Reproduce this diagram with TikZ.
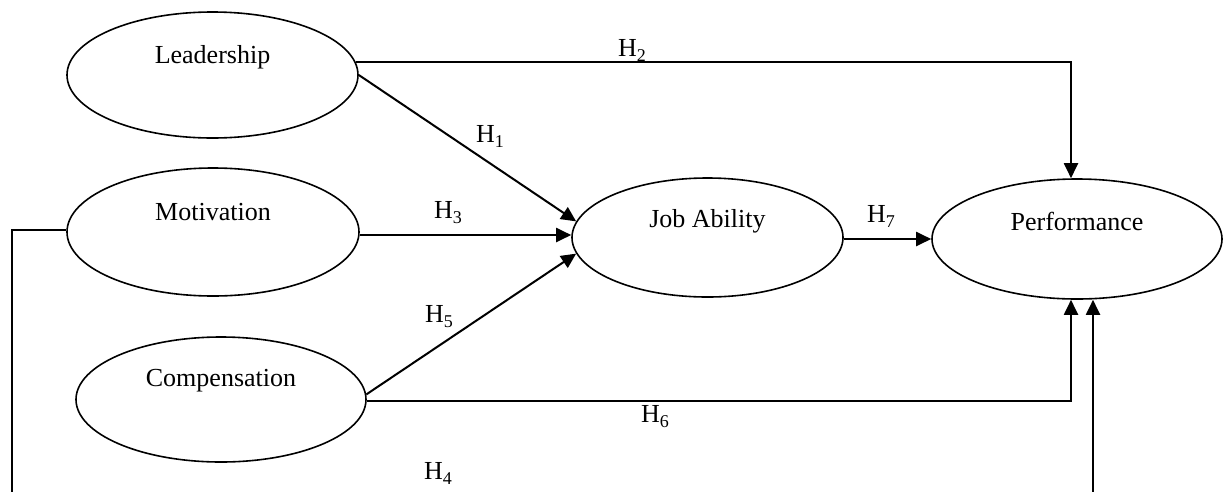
\documentclass[tikz,border=0pt]{standalone}
\usepackage{fontspec}
\setmainfont{Liberation Serif}
\usetikzlibrary{shapes.geometric,arrows.meta,calc}
\newcommand{\Hyp}[1]{H\raisebox{-5pt}{\fontsize{18}{20}\selectfont #1}}
\begin{document}
\begin{tikzpicture}[x=1pt,y=-1pt,
  construct/.style={ellipse,draw,line width=1.6pt,inner sep=0pt},
  ctext/.style={anchor=base,font=\fontsize{26}{30}\selectfont},
  hlabel/.style={anchor=base,font=\fontsize{26}{30}\selectfont,inner sep=0pt},
  conn/.style={line width=2pt,-{Triangle[length=15pt,width=14pt]}},
  plain/.style={line width=2pt}]
\useasboundingbox (0,0) rectangle (1224,491);
\clip (0,0) rectangle (1224,491);
% constructs
\node[construct,minimum width=291pt,minimum height=126pt] (lead) at (212.5,75) {};
\node[construct,minimum width=292pt,minimum height=128pt] (mot) at (213,232) {};
\node[construct,minimum width=290pt,minimum height=125pt] (comp) at (221,399.5) {};
\node[construct,minimum width=271pt,minimum height=119pt] (ja) at (707.5,237.5) {};
\node[construct,minimum width=290pt,minimum height=120pt] (perf) at (1077,239) {};
% texts
\node[ctext] (leadt) at ([yshift=12pt]lead.center) {Leadership};
\node[ctext] (mott) at ([yshift=12pt]mot.center) {Motivation};
\node[ctext] (compt) at ([yshift=13pt]comp.center) {Compensation};
\node[ctext] (jat) at ([yshift=10pt]ja.center) {Job Ability};
\node[ctext] (perft) at ([yshift=9pt]perf.center) {Performance};
% helper coordinates
\coordinate (h4a) at (12,530);
% connectors
\draw[conn] (lead.east) -- (ja.173);
\draw[conn] (lead.5) -| ([xshift=-6pt]perf.north);
\draw[conn] (mot.east |- 0,235) -- (ja.west |- 0,235);
\draw[conn] (comp.2) -- (ja.187);
\draw[conn] (comp.east |- 0,401) -| ([xshift=-6pt]perf.south);
\draw[conn] (ja.east |- 0,239) -- (perf.west);
\draw[conn] (mot.west |- 0,230) -| (h4a) -| ([xshift=16pt]perf.south);
% labels
\node[hlabel] (l1) at (490,142) {\Hyp{1}};
\node[hlabel] (l2) at (632,56) {\Hyp{2}};
\node[hlabel] (l3) at (448,218) {\Hyp{3}};
\node[hlabel] (l4) at (438,479) {\Hyp{4}};
\node[hlabel] (l5) at (439,322) {\Hyp{5}};
\node[hlabel] (l6) at (655,422) {\Hyp{6}};
\node[hlabel] (l7) at (881,222) {\Hyp{7}};
\end{tikzpicture}
\end{document}
